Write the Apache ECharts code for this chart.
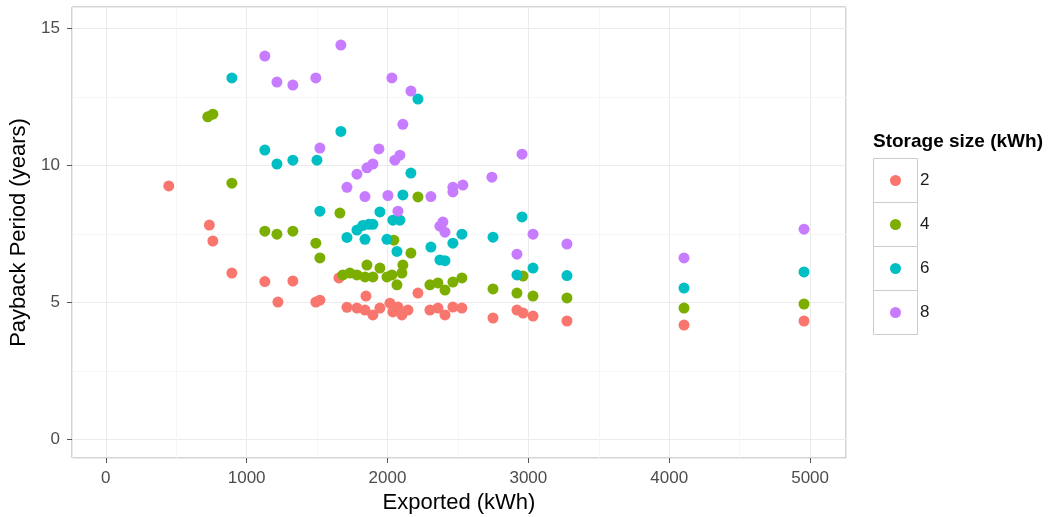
<!DOCTYPE html>
<html><head><meta charset="utf-8">
<script src="https://cdn.jsdelivr.net/npm/echarts@6/dist/echarts.min.js"></script>
<style>html,body{margin:0;padding:0;background:#fff}#c{width:1049px;height:517px}</style>
</head><body><div id="c"></div>
<script>
const storageSizes = ['2', '4', '6', '8'];
const colors = ['#F8766D', '#7CAE00', '#00BFC4', '#C77CFF'];

const exported2 = [447,735,760,895,1129,1328,1222,1491,1520,1655,1712,1783,1847,1840,1896,1946,2017,2038,2074,2102,2145,2216,2301,2358,2408,2464,2528,2749,2919,2962,3033,3274,4105,4957];
const payback2  = [9.25,7.82,7.24,6.07,5.76,5.78,5.01,5.01,5.08,5.89,4.82,4.79,5.23,4.72,4.54,4.79,4.97,4.65,4.83,4.54,4.72,5.34,4.72,4.79,4.54,4.83,4.79,4.43,4.72,4.61,4.50,4.32,4.17,4.32];

const exported4 = [724,760,895,1129,1215,1328,1491,1520,1662,1683,1733,1783,1854,1840,1896,1946,1996,2031,2067,2102,2109,2166,2216,2301,2358,2408,2464,2528,2749,2919,2962,3033,3274,4105,4957,2045];
const payback4  = [11.77,11.87,9.35,7.6,7.49,7.6,7.16,6.62,8.26,6.0,6.07,6.0,6.36,5.93,5.93,6.25,5.93,6.0,5.64,6.07,6.36,6.8,8.85,5.64,5.71,5.45,5.74,5.89,5.49,5.34,5.96,5.23,5.16,4.79,4.94,7.27];

const exported6 = [895,2216,1669,1129,1215,1328,1499,2166,2109,1520,1946,2955,1868,1896,1825,1783,1712,1840,1996,2038,2088,2067,2308,2464,2528,2749,2372,2408,2919,3033,3274,4105,4957];
const payback6  = [13.19,12.42,11.24,10.56,10.05,10.19,10.19,9.72,8.92,8.33,8.3,8.12,7.85,7.85,7.81,7.64,7.37,7.3,7.3,8.0,8.0,6.86,7.02,7.16,7.49,7.38,6.55,6.52,6.0,6.25,5.98,5.52,6.11];

const exported8 = [1129,1669,1215,1328,1491,2031,2166,2109,1520,1939,2088,2052,1896,1854,1783,1712,1840,2003,2074,2308,2464,2535,2464,2741,2955,2393,2372,2408,3033,2919,3274,4105,4957];
const payback8  = [13.99,14.39,13.04,12.93,13.19,13.19,12.71,11.5,10.63,10.6,10.37,10.19,10.05,9.91,9.68,9.2,8.86,8.9,8.33,8.86,9.2,9.28,9.03,9.57,10.41,7.93,7.78,7.56,7.49,6.76,7.13,6.62,7.67];

const xs = [exported2, exported4, exported6, exported8];
const ys = [payback2, payback4, payback6, payback8];

const font = 'Liberation Sans, Arial, Helvetica, sans-serif';
const chart = echarts.init(document.getElementById('c'));

const series = storageSizes.map((s, i) => ({
  name: s,
  type: 'scatter',
  symbolSize: 11,
  itemStyle: { color: colors[i], opacity: 1 },
  data: xs[i].map((x, j) => [x, ys[i][j]]),
  z: 3
}));

const boxes = storageSizes.map((s, i) => ({
  type: 'rect',
  left: 873, top: 158 + i * 44,
  shape: { width: 44, height: 44 },
  style: { fill: '#fff', stroke: '#cccccc', lineWidth: 1 },
  z: 0
}));

chart.setOption({
  animation: false,
  backgroundColor: '#fff',
  textStyle: { fontFamily: font },
  title: {
    text: 'Storage size (kWh)', left: 868, top: 127,
    textStyle: { fontSize: 19, fontWeight: 'bold', color: '#000', fontFamily: font }
  },
  legend: {
    orient: 'vertical', left: 885, top: 167,
    itemWidth: 11, itemHeight: 11, itemGap: 27,
    icon: 'circle',
    data: storageSizes,
    textStyle: { fontSize: 17, color: '#1a1a1a', padding: [0, 0, 0, 14], fontFamily: font },
    z: 5
  },
  graphic: boxes,
  grid: {
    left: 72, top: 7, width: 774, height: 451,
    outerBoundsMode: 'none', containLabel: false,
    show: true, borderColor: '#a8a8a8', borderWidth: 1, backgroundColor: '#fff'
  },
  xAxis: {
    type: 'value', min: -240, max: 5255, splitNumber: 5,
    name: 'Exported (kWh)', nameLocation: 'middle', nameGap: 34,
    nameTextStyle: { fontSize: 22, color: '#000', fontFamily: font },
    axisLine: { show: false, onZero: false },
    axisTick: { show: true, length: 5, lineStyle: { color: '#555' } },
    axisLabel: { fontSize: 17, color: '#4d4d4d', margin: 12, showMinLabel: false, showMaxLabel: false, fontFamily: font,
      formatter: v => String(v) },
    splitLine: { show: true, lineStyle: { color: '#ebebeb', width: 1 } },
    minorTick: { show: false, splitNumber: 2 },
    minorSplitLine: { show: true, lineStyle: { color: '#f6f6f6', width: 1 } }
  },
  yAxis: {
    type: 'value', min: -0.68, max: 15.78, splitNumber: 3,
    name: 'Payback Period (years)', nameLocation: 'middle', nameGap: 39, nameRotate: 90,
    nameTextStyle: { fontSize: 22, color: '#000', fontFamily: font },
    axisLine: { show: false, onZero: false },
    axisTick: { show: true, length: 5, lineStyle: { color: '#555' } },
    axisLabel: { fontSize: 17, color: '#4d4d4d', margin: 12, showMinLabel: false, showMaxLabel: false, fontFamily: font,
      formatter: v => String(v) },
    splitLine: { show: true, lineStyle: { color: '#ebebeb', width: 1 } },
    minorTick: { show: false, splitNumber: 2 },
    minorSplitLine: { show: true, lineStyle: { color: '#f6f6f6', width: 1 } }
  },
  series: series
});
</script></body></html>
